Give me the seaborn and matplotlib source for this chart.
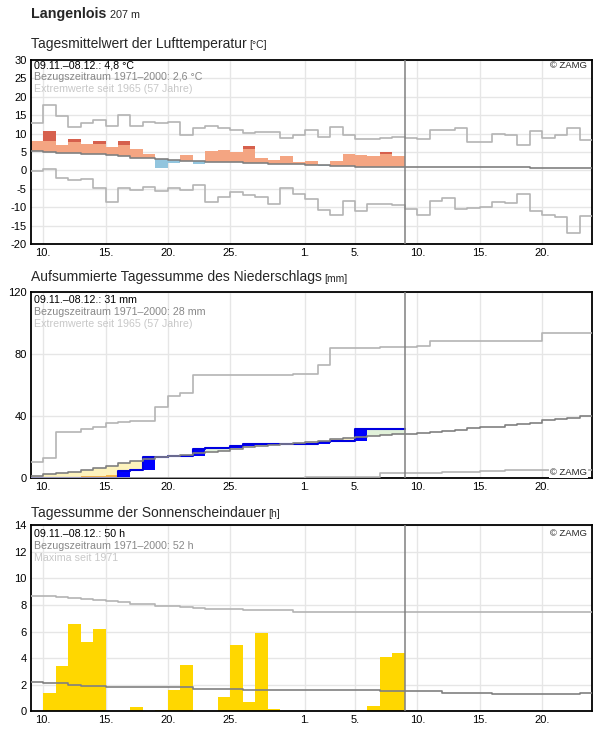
import numpy as np
import matplotlib
matplotlib.use("Agg")
import matplotlib.pyplot as plt
import seaborn as sns

# day index 0 = 09.11., data until 08.12. (index 29), climate until 23.12. (index 44)
tick_pos = [1, 6, 11, 16, 22, 26, 31, 36, 41]
tick_lab = ["10.", "15.", "20.", "25.", "1.", "5.", "10.", "15.", "20."]

# --- Lufttemperatur (Tagesmittel) ---
temp_day = [8.0, 10.7, 6.9, 8.5, 7.2, 8.0, 6.3, 8.0, 5.8, 4.5,
            0.7, 2.0, 4.2, 1.8, 5.3, 5.5, 5.0, 6.6, 3.4, 2.8,
            3.9, 2.3, 2.5, 1.1, 2.5, 4.5, 4.2, 3.9, 5.0, 3.9]
temp_strong = [np.nan, 8.0, np.nan, 7.7, np.nan, 7.2, np.nan, 6.9, np.nan, np.nan,
               np.nan, np.nan, np.nan, np.nan, np.nan, np.nan, np.nan, 5.8, np.nan, np.nan,
               np.nan, np.nan, np.nan, np.nan, np.nan, np.nan, np.nan, np.nan, 4.4, np.nan]
temp_clim = [5.25, 5.0, 4.8, 4.6, 4.5, 4.35, 4.1, 3.8, 3.45, 3.25,
             3.0, 2.8, 2.65, 2.45, 2.35, 2.2, 2.15, 2.1, 1.9, 1.8,
             1.7, 1.65, 1.55, 1.35, 1.2, 1.1, 1.0, 0.9, 0.85, 0.85,
             0.85, 0.85, 0.85, 0.85, 0.85, 0.85, 0.85, 0.85, 0.85, 0.85,
             0.7, 0.7, 0.7, 0.7, 0.7]
temp_max = [12.8, 17.7, 14.8, 11.7, 13.0, 13.6, 12.0, 15.1, 12.2, 13.2,
            13.0, 13.2, 9.5, 11.4, 12.0, 11.4, 10.9, 10.1, 10.5, 10.3,
            8.7, 9.5, 11.1, 9.2, 11.8, 9.6, 8.4, 8.4, 8.7, 9.0,
            8.9, 8.4, 10.9, 10.9, 11.6, 7.7, 7.7, 9.9, 9.5, 6.8,
            10.6, 8.7, 9.5, 11.4, 8.2]
temp_min = [-0.2, 0.5, -2.2, -2.7, -2.4, -4.9, -8.6, -4.9, -5.4, -4.6,
            -5.7, -4.9, -5.2, -4.1, -8.6, -7.1, -5.9, -6.8, -7.1, -9.2,
            -4.9, -6.5, -7.9, -10.8, -12.0, -8.4, -11.1, -9.0, -9.0, -9.5,
            -10.6, -12.1, -8.2, -7.6, -10.6, -10.2, -9.9, -8.5, -8.8, -6.3,
            -11.1, -12.0, -12.7, -17.1, -12.4]

# --- Niederschlag ---
rain_day = [0.5, 0, 0, 0, 0, 0, 0, 4.2, 0.4, 8.8,
            0, 0.2, 0.4, 4.2, 1.1, 0, 0.8, 1.3, 0, 0,
            0, 0, 0, 1.4, 0.7, 0.3, 7.1, 0, 0, 0]
rain_dry_mark = [np.nan, np.nan, np.nan, np.nan, 1.7, 1.7, 2.3, np.nan, np.nan, np.nan,
                 np.nan, np.nan, np.nan, np.nan, np.nan, np.nan, np.nan, np.nan, np.nan, np.nan,
                 np.nan, np.nan, np.nan, np.nan, np.nan, np.nan, np.nan, np.nan, np.nan, np.nan]
rain_clim = [1.5, 2.6, 3.2, 3.9, 5.1, 6.6, 8.1, 9.8, 10.9, 12.2,
             13.9, 14.5, 15.2, 16.1, 16.9, 17.6, 19.0, 19.9, 20.8, 21.6,
             22.1, 22.5, 23.1, 24.2, 25.3, 26.1, 26.8, 27.4, 27.8, 28.3,
             28.5, 28.9, 29.6, 30.2, 30.8, 32.1, 32.8, 33.2, 34.1, 34.7,
             35.8, 37.5, 38.4, 39.0, 40.1]
rain_max = [10.7, 12.9, 30.0, 30.0, 31.5, 33.2, 35.8, 36.4, 36.8, 36.8,
            46.1, 53.1, 54.6, 66.2, 66.2, 66.2, 66.2, 66.2, 66.2, 66.2,
            66.2, 67.1, 67.1, 72.9, 83.6, 83.6, 83.6, 83.6, 84.4, 84.4,
            84.4, 84.9, 88.1, 88.1, 88.1, 88.1, 88.1, 88.1, 88.1, 88.1,
            88.1, 93.2, 93.2, 93.2, 93.2]
rain_min = [0, 0, 0, 0, 0, 0, 0, 0, 0, 0,
            0, 0, 0, 0, 0, 0, 0, 0, 0, 0,
            0, 0, 0.6, 0.6, 0.6, 0.6, 0.6, 0.6, 3.2, 3.2,
            3.2, 3.2, 3.2, 3.8, 3.8, 3.8, 4.5, 4.5, 5.1, 5.1,
            5.1, 5.5, 5.5, 5.5, 5.5]

# --- Sonnenscheindauer ---
sun_day = [0, 1.4, 3.4, 6.6, 5.2, 6.2, 0, 0, 0.3, 0,
           0.1, 1.6, 3.5, 0, 0, 1.1, 5.0, 0.7, 5.9, 0.2,
           0, 0, 0, 0, 0, 0, 0, 0.4, 4.1, 4.4]
sun_clim = [2.18, 2.11, 2.11, 1.96, 1.88, 1.88, 1.81, 1.81, 1.81, 1.81,
            1.81, 1.81, 1.81, 1.68, 1.68, 1.68, 1.68, 1.58, 1.58, 1.58,
            1.58, 1.58, 1.58, 1.58, 1.58, 1.58, 1.58, 1.58, 1.51, 1.51,
            1.51, 1.51, 1.51, 1.35, 1.35, 1.35, 1.35, 1.28, 1.28, 1.28,
            1.28, 1.28, 1.28, 1.28, 1.35]
sun_max = [8.66, 8.66, 8.58, 8.5, 8.45, 8.38, 8.33, 8.2, 8.05, 8.05,
           7.93, 7.93, 7.88, 7.75, 7.7, 7.7, 7.7, 7.63, 7.63, 7.63,
           7.63, 7.45, 7.45, 7.45, 7.45, 7.45, 7.45, 7.45, 7.45, 7.45,
           7.45, 7.45, 7.45, 7.45, 7.45, 7.45, 7.45, 7.45, 7.45, 7.45,
           7.45, 7.45, 7.45, 7.45, 7.45]

sns.set_style("white")
plt.rcParams["font.family"] = ["Liberation Sans", "DejaVu Sans"]
plt.rcParams["axes.unicode_minus"] = False

W, H = 596, 729
fig = plt.figure(figsize=(W / 100, H / 100), dpi=100)

GRAY = "#808080"
LIGHT = "#b4b4b4"


def make_axes(top, bottom):
    return fig.add_axes([30.7 / W, 1 - bottom / H, (592 - 30.7) / W, (bottom - top) / H])


def setup(ax, ylim, yticks):
    ax.set_xlim(0, 45)
    ax.set_ylim(*ylim)
    ax.set_xticks(tick_pos)
    ax.set_xticklabels(tick_lab)
    ax.set_yticks(yticks)
    ax.grid(True, color="#e6e6e6", lw=1)
    ax.set_axisbelow(True)
    ax.tick_params(length=0, labelsize=8, pad=3, colors="black")
    for s in ax.spines.values():
        s.set_visible(True)
        s.set_color("black")
        s.set_linewidth(1.3)
    ax.axvline(30, color=GRAY, lw=1.1, zorder=6)
    ax.set_xlabel("")
    ax.set_ylabel("")


def steps(ax, vals, color, lw=1.2, z=4):
    x = np.arange(len(vals) + 1)
    y = list(vals) + [vals[-1]]
    sns.lineplot(x=x, y=y, ax=ax, color=color, linewidth=lw,
                 drawstyle="steps-post", zorder=z, legend=False)


def info(ax, lines, off_top):
    cols = ["black", "#888888", "#c8c8c8"]
    for i, (txt, c) in enumerate(zip(lines, cols)):
        ax.annotate(txt, xy=(0, 1), xycoords="axes fraction",
                    xytext=(3.6 * 0.72, -(off_top + 12 * i) * 0.72),
                    textcoords="offset points", va="center", ha="left",
                    fontsize=7.7, color=c, zorder=7)


def zamg(ax, top=True, off=5.7):
    if top:
        ax.annotate("© ZAMG", xy=(1, 1), xycoords="axes fraction",
                    xytext=(-5 * 0.72, -off * 0.72), textcoords="offset points",
                    va="center", ha="right", fontsize=6.8, zorder=7)
    else:
        ax.annotate("© ZAMG", xy=(1, 0), xycoords="axes fraction",
                    xytext=(-5 * 0.72, off * 0.72), textcoords="offset points",
                    va="center", ha="right", fontsize=6.8, zorder=7,
                    bbox=dict(facecolor="white", edgecolor="none", pad=0.5))


renderer = fig.canvas.get_renderer()


def title(x, y, main, small, size=10, small_size=7.5, weight="normal", gap=3):
    t = fig.text(x / W, 1 - y / H, main, fontsize=size, fontweight=weight, va="baseline")
    bb = t.get_window_extent(renderer)
    fig.text((bb.x1 + gap) / W, 1 - y / H, small, fontsize=small_size, va="baseline")


title(30.7, 18.3, "Langenlois", "207 m", size=10.3, small_size=7.8, weight="bold", gap=3.5)
title(30.7, 48.3, "Tagesmittelwert der Lufttemperatur", "[°C]")
title(30.7, 281.5, "Aufsummierte Tagessumme des Niederschlags", "[mm]")
title(30.7, 516.7, "Tagessumme der Sonnenscheindauer", "[h]")

days = np.arange(30)

# ---------- panel 1: temperature ----------
ax1 = make_axes(60, 244)
setup(ax1, (-20, 30), np.arange(-20, 31, 5))
t = np.array(temp_day)
m = np.array(temp_clim[:30])
strong = np.array(temp_strong)
warm = t >= m
ax1.bar(days[warm], (t - m)[warm], bottom=m[warm], width=1, align="edge",
        color="#f4a582", linewidth=0, zorder=2)
ax1.bar(days[~warm], (m - t)[~warm], bottom=t[~warm], width=1, align="edge",
        color="#92c5de", linewidth=0, zorder=2)
has = ~np.isnan(strong)
ax1.bar(days[has], (t - strong)[has], bottom=strong[has], width=1, align="edge",
        color="#d6604d", linewidth=0, zorder=2)
steps(ax1, temp_max, LIGHT)
steps(ax1, temp_min, LIGHT)
steps(ax1, temp_clim, GRAY)
info(ax1, ["09.11.–08.12.: 4,8 °C", "Bezugszeitraum 1971–2000: 2,6 °C",
           "Extremwerte seit 1965 (57 Jahre)"], 5.3)
zamg(ax1, True, 5.7)

# ---------- panel 2: precipitation ----------
ax2 = make_axes(291.7, 478.3)
setup(ax2, (0, 120), [0, 40, 80, 120])
r = np.array(rain_day)
cum = np.cumsum(r)
prev = cum - r
c = np.array(rain_clim[:30])
dry = cum < c
ax2.bar(days[dry], (c - cum)[dry], bottom=cum[dry], width=1, align="edge",
        color="#fdf3bd", linewidth=0, zorder=2)
ax2.bar(days[~dry], (cum - c)[~dry], bottom=c[~dry], width=1, align="edge",
        color="#e1f1d9", linewidth=0, zorder=2)
mark = np.array(rain_dry_mark)
hm = ~np.isnan(mark)
ax2.bar(days[hm], (mark - cum)[hm], bottom=cum[hm], width=1, align="edge",
        color="#f7b84a", linewidth=0, zorder=2)
wet = r > 0
ax2.bar(days[wet], r[wet], bottom=prev[wet], width=1, align="edge",
        color="#0000ff", linewidth=0, zorder=3)
steps(ax2, list(cum), "#0000e0", lw=1.5, z=4)
steps(ax2, rain_max, LIGHT, z=5)
steps(ax2, rain_min, LIGHT, z=5)
steps(ax2, rain_clim, GRAY, z=5)
info(ax2, ["09.11.–08.12.: 31 mm", "Bezugszeitraum 1971–2000: 28 mm",
           "Extremwerte seit 1965 (57 Jahre)"], 8.3)
zamg(ax2, False, 5.6)

# ---------- panel 3: sunshine ----------
ax3 = make_axes(525.3, 711.3)
setup(ax3, (0, 14), np.arange(0, 15, 2))
s = np.array(sun_day)
ax3.bar(days, s, width=1, align="edge", color="#ffd700", linewidth=0, zorder=2)
steps(ax3, sun_max, LIGHT)
steps(ax3, sun_clim, GRAY)
info(ax3, ["09.11.–08.12.: 50 h", "Bezugszeitraum 1971–2000: 52 h",
           "Maxima seit 1971"], 8.5)
zamg(ax3, True, 8.0)

fig.savefig("out.png", dpi=100)
